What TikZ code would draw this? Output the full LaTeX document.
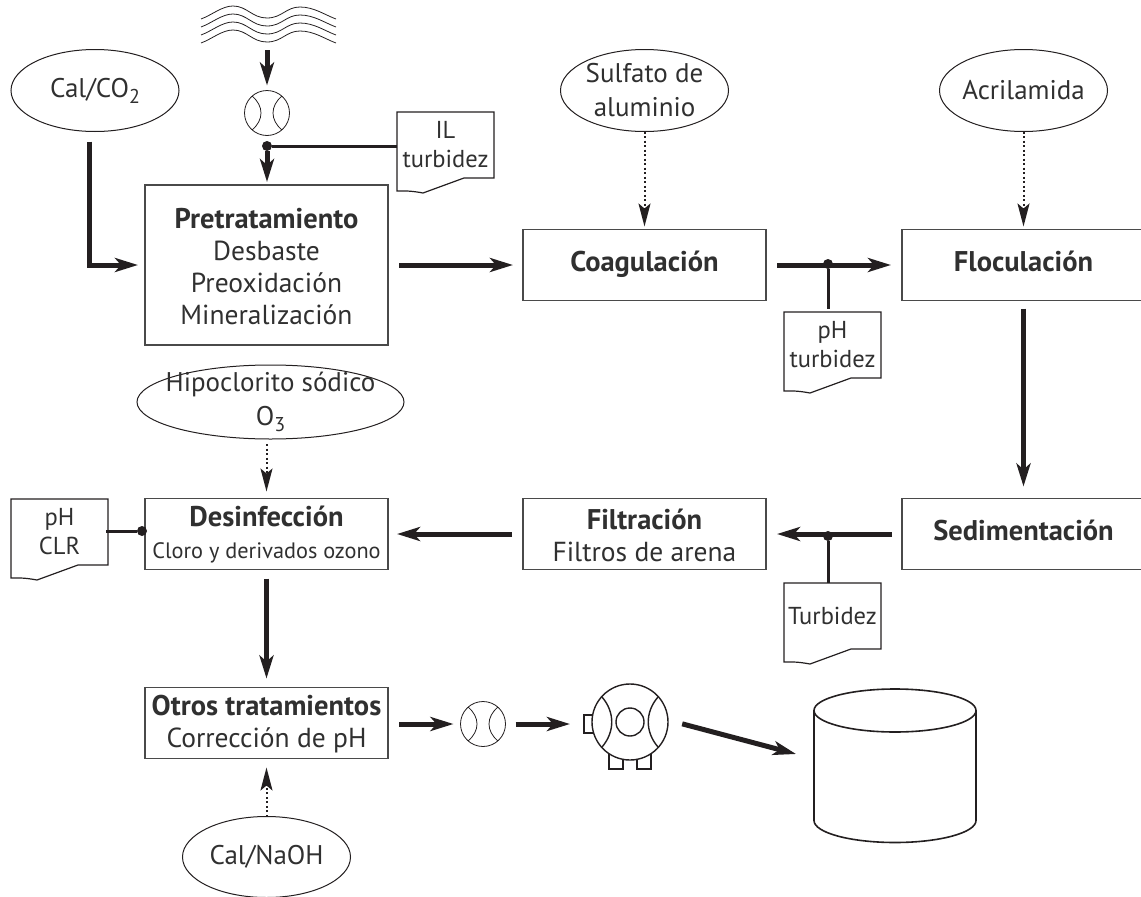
\documentclass[tikz,border=0pt]{standalone}
\usepackage{fontspec}
\setmainfont{PT Sans}
\usetikzlibrary{positioning, calc, shapes.geometric, arrows.meta}
\definecolor{ink}{HTML}{231F20}
\definecolor{boxline}{HTML}{4A4A4A}
\definecolor{inktext}{HTML}{303030}
\newcommand{\subnum}[1]{\raisebox{-6pt}{\fontsize{20}{20}\selectfont #1}}
\newcommand{\stagehead}[1]{{\fontsize{28.5}{32}\selectfont\bfseries\strut #1}}

\begin{document}
\begin{tikzpicture}[x=1pt, y=-1pt, >=Stealth,
    every node/.style={font=\fontsize{24.5}{29}\selectfont, text=inktext, align=center, outer sep=0pt},
    every label/.style={font=\fontsize{27}{34}\selectfont, text=inktext, align=center},
    stage/.style={draw=boxline, line width=1.2pt, minimum width=243pt, minimum height=71pt, inner sep=0pt, font=\fontsize{27.5}{32}\selectfont},
    source/.style={ellipse, draw=ink, line width=1pt, minimum width=168pt, minimum height=82pt, inner sep=0pt},
    sensor/.style={minimum width=97pt, minimum height=66pt, inner sep=0pt},
    tap/.style={circle, fill=ink, minimum size=10pt, inner sep=0pt},
    flow/.style={draw=ink, line width=5pt, -{Stealth[length=23pt, width=14pt, inset=6pt]}},
    dose/.style={draw=ink, line width=2pt, dash pattern=on 2pt off 2.5pt, -{Stealth[length=23pt, width=12pt, inset=5pt]}},
    probe/.style={draw=ink, line width=3pt},
    meter/.pic={
      \node[circle, draw=ink, line width=.8pt, minimum size=45pt, inner sep=0pt] (-c) {};
      \draw[ink, line width=.8pt] (-15,-17) .. controls (-3,-7) and (-3,7) .. (-15,17);
      \draw[ink, line width=.8pt] (15,-17) .. controls (3,-7) and (3,7) .. (15,17);
    },
    pump/.pic={
      \draw[ink, line width=1.4pt] (-46,-7) rectangle (-36,11);
      \draw[ink, line width=1.4pt] (-21,30) rectangle (-7,47);
      \draw[ink, line width=1.4pt] (7,30) rectangle (21,47);
      \node[circle, draw=ink, fill=white, line width=1.4pt, minimum size=76pt, inner sep=0pt] (-c) {};
      \draw[ink, line width=1.4pt] (-28,-25) .. controls (-15,-10) and (-15,10) .. (-28,25);
      \draw[ink, line width=1.4pt] (28,-25) .. controls (15,-10) and (15,10) .. (28,25);
      \draw[ink, line width=1.4pt] (0,0) circle (14);
    }]
  \useasboundingbox (0,0) rectangle (1141,897);

  % process stages
  \node[stage, minimum height=160pt] (pre) at (266.5,265) {\stagehead{Pretratamiento}\\Desbaste\\Preoxidación\\Mineralización};
  \node[stage, right=135pt of pre] (coag) {\stagehead{Coagulación}};
  \node[stage, right=136pt of coag] (floc) {\stagehead{Floculación}};
  \node[stage, below=198pt of floc] (sedi) {\stagehead{Sedimentación}};
  \node[stage, left=136pt of sedi] (filt) {\stagehead{Filtración}\\Filtros de arena};
  \node[stage, left=135pt of filt] (desi) {\stagehead{Desinfección}\\{\fontsize{22.3}{30}\selectfont Cloro y derivados ozono}};
  \node[stage, below=118pt of desi] (otro) {\stagehead{Otros tratamientos}\\Corrección de pH};

  % dosing
  \node[source, label=center:Cal/CO\subnum{2}] (calco) at (95,90.5) {};
  \node[source, above=98pt of coag, label=center:Sulfato de\\aluminio] (sulf) {};
  \node[source, above=98pt of floc, label=center:Acrilamida] (acri) {};
  \node[source, minimum width=267pt, minimum height=74pt, label={center:Hipoclorito sódico\\O\subnum{3}}] (hipo) at (270.5,402) {};
  \node[source, below=58pt of otro, minimum height=81pt, label=center:Cal/NaOH] (naoh) {};

  % sensors
  \node[sensor] (il) at (445.5,145) {IL\\turbidez};
  \node[sensor] (phturb) at (832.5,345) {pH\\turbidez};
  \node[sensor] (turb) at (832.5,616) {Turbidez};
  \node[sensor] (phclr) at (59.5,532) {pH\\CLR};
  \foreach \tg in {il,phturb,turb,phclr}
    \draw[ink, line width=1.2pt] (\tg.north west) -- (\tg.north east) -- (\tg.south east) -- ++(-30,0)
      -- ++(-41,15) to[bend right=6] ++(-26,-2) -- cycle;

  % water intake
  \foreach \dy in {0,8,16,24}
    \draw[ink, line width=.8pt, yshift=-\dy pt] (201,19) .. controls (212,15) and (222,6) .. (233,6)
      .. controls (247,6) and (252,18) .. (267,18) .. controls (282,18) and (286,7) .. (300,7)
      .. controls (314,7) and (325,15) .. (336,19);
  \coordinate (wave) at (267,44);
  \pic (mone) at (267,113) {meter};
  \pic (mtwo) at (483,724) {meter};
  \pic (pumpa) at (630,722) {pump};

  % tank
  \node[ellipse, draw=ink, line width=1.6pt, minimum width=162pt, minimum height=43pt, inner sep=0pt] (tank) at (895,710.5) {};
  \draw[ink, line width=1.6pt] (tank.west) -- ++(0,110) arc[start angle=180, end angle=0, x radius=81, y radius=22] -- (tank.east);
  \coordinate (tankin) at (796,754);

  % tap points
  \node[tap] (tapa) at (267,146) {};
  \node[tap] (tapb) at (828,264) {};
  \node[tap] (tapc) at (828,536) {};
  \node[tap] (tapd) at (142,531) {};

  % main line
  \draw[flow, shorten <=6pt, shorten >=5pt] (wave) -- (mone-c);
  \draw[flow, shorten >=3pt] (tapa) -- (tapa |- pre.north);
  \draw[flow, shorten <=10pt, shorten >=7pt] ([xshift=-6pt]calco.south) |- (pre);
  \draw[flow, shorten <=11pt, shorten >=10pt] (pre) -- (coag);
  \draw[flow, shorten <=11pt, shorten >=11pt] (coag) -- (floc);
  \draw[flow, shorten <=8pt, shorten >=12pt] (floc) -- (sedi);
  \draw[flow, shorten <=10pt, shorten >=11pt] (sedi) -- (filt);
  \draw[flow, shorten <=11pt, shorten >=9pt] (filt) -- (desi);
  \draw[flow, shorten <=9pt, shorten >=9pt] (desi) -- (otro);
  \draw[flow, shorten <=11pt, shorten >=7pt] (otro.east |- mtwo-c) -- (mtwo-c);
  \draw[flow, shorten <=10pt, shorten >=22pt] (mtwo-c) -- (mtwo-c -| pumpa-c.west);
  \draw[flow, shorten <=54pt] ([yshift=12pt]pumpa-c.center) -- (tankin);

  % dosing lines
  \draw[dose, shorten >=3pt] (sulf) -- (coag);
  \draw[dose, shorten >=3pt] (acri) -- (floc);
  \draw[dose, shorten <=5pt, shorten >=7pt] (desi.north |- hipo.south) -- (desi);
  \draw[dose, shorten >=9pt] (naoh) -- (otro);

  % sensor lines
  \draw[probe] (tapa) -- (il.west |- tapa);
  \draw[probe, shorten >=3pt] (tapb) -- (tapb |- phturb.north);
  \draw[probe] (tapc) -- (tapc |- turb.north);
  \draw[probe, shorten >=-2pt] (tapd) -- (phclr.east |- tapd);
\end{tikzpicture}
\end{document}
